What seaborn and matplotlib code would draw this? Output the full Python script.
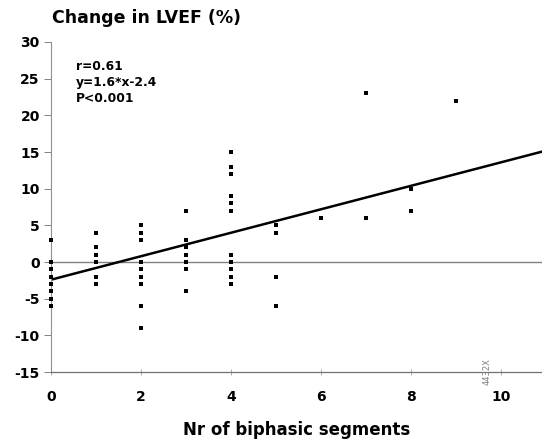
import numpy as np
import pandas as pd
import matplotlib
matplotlib.use("Agg")
import matplotlib.pyplot as plt
import seaborn as sns

# biphasic segments vs change in LVEF
seg_0 = [3, 0, -1, -2, -3, -4, -5, -6]
seg_1 = [4, 2, 1, 0, -2, -3]
seg_2 = [5, 4, 3, 0, -1, -2, -3, -6, -9]
seg_3 = [7, 3, 2, 1, 0, -1, -4]
seg_4 = [15, 13, 12, 9, 8, 7, 1, 0, -1, -2, -3]
seg_5 = [5, 4, -2, -6]
seg_6 = [6]
seg_7 = [23, 6]
seg_8 = [10, 7]
seg_9 = [22]

groups = [seg_0, seg_1, seg_2, seg_3, seg_4, seg_5, seg_6, seg_7, seg_8, seg_9]

slope = 1.6
intercept = -2.4
stats_text = "r=0.61\ny=1.6*x-2.4\nP<0.001"

x_ticks = [0, 2, 4, 6, 8, 10]
y_ticks = [-15, -10, -5, 0, 5, 10, 15, 20, 25, 30]

rows = []
for n, vals in enumerate(groups):
    for v in vals:
        rows.append((n, v))
df = pd.DataFrame(rows, columns=["segments", "lvef"])

sns.set_style("white")
plt.rcParams['font.family'] = ['DejaVu Sans']
plt.rcParams['font.weight'] = 'bold'
plt.rcParams['text.color'] = 'black'
plt.rcParams['xtick.labelcolor'] = 'black'
plt.rcParams['ytick.labelcolor'] = 'black'
plt.rcParams['axes.labelcolor'] = 'black'
plt.rcParams['axes.unicode_minus'] = False

fig = plt.figure(figsize=(5.42, 4.42), dpi=100)
ax = fig.add_axes([0.094, 0.158, 0.906, 0.747])

x_max = 10.91
ax.axhline(0, color="#808080", lw=1.0, zorder=1)

fit = pd.DataFrame({"segments": [0, x_max]})
fit["lvef"] = slope * fit["segments"] + intercept
sns.lineplot(data=fit, x="segments", y="lvef", ax=ax, color="black", lw=1.8, zorder=2)

sns.scatterplot(data=df, x="segments", y="lvef", ax=ax, marker="s", s=7,
                color="black", linewidth=0, zorder=3, clip_on=False)

ax.set_xlim(0, x_max)
ax.set_ylim(-15, 30)
ax.set_xticks(x_ticks)
ax.set_yticks(y_ticks)
ax.tick_params(axis="y", direction="out", length=5, width=0.6, color="#707070",
               pad=3, labelsize=10, left=True)
ax.tick_params(axis="x", direction="inout", length=4, width=0.6, color="#a0a0a0",
               pad=11, labelsize=10, bottom=True)
for lab in ax.get_xticklabels() + ax.get_yticklabels():
    lab.set_fontweight("bold")

sns.despine(ax=ax, top=True, right=True)
ax.spines["left"].set_color("#909090")
ax.spines["left"].set_linewidth(0.8)
ax.spines["bottom"].set_color("#707070")
ax.spines["bottom"].set_linewidth(0.9)

ax.set_xlabel("Nr of biphasic segments", fontsize=12, fontweight="bold", labelpad=12)
ax.set_ylabel("")
fig.text(52 / 542, 1 - 18 / 442, "Change in LVEF (%)", fontsize=12.5,
         fontweight="bold", ha="left", va="center")

ax.text(0.05, 0.945, stats_text, transform=ax.transAxes, fontsize=8.8,
        fontweight="bold", ha="left", va="top", linespacing=1.3)

fig.text(487 / 542, 1 - 372 / 442, "4432X", fontsize=6, color="#808080",
         rotation=90, ha="center", va="center", fontweight="normal")

fig.savefig("out.png", dpi=100)
